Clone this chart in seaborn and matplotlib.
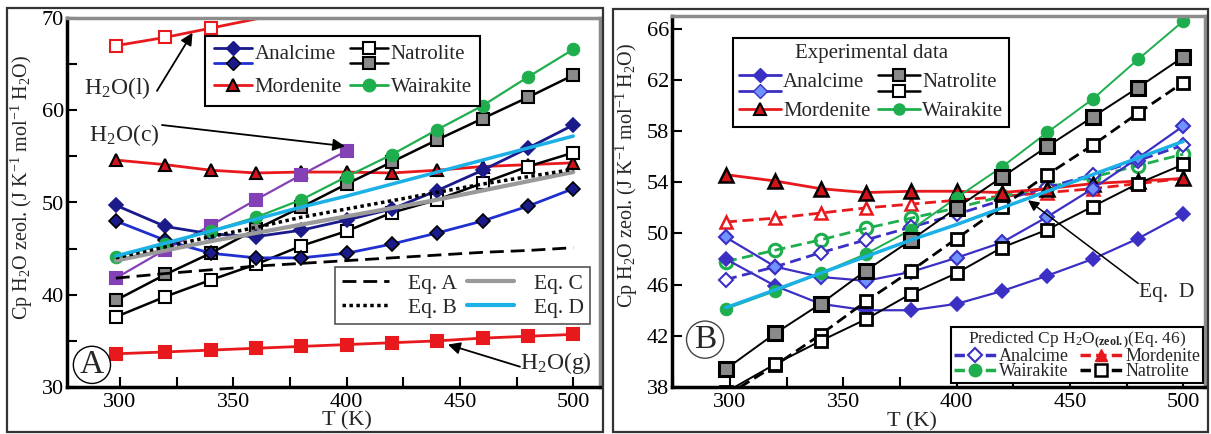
import matplotlib
matplotlib.use("Agg")
import matplotlib.pyplot as plt
import seaborn as sns
from matplotlib.lines import Line2D
from matplotlib.legend_handler import HandlerBase
from matplotlib.patches import Rectangle
from matplotlib.ticker import MultipleLocator

# === SETTINGS ===
sns.set_theme(style="ticks")
plt.rcParams["font.family"] = ["Liberation Serif", "DejaVu Serif"]
plt.rcParams["mathtext.fontset"] = "custom"
plt.rcParams["mathtext.rm"] = "Liberation Serif"
plt.rcParams["mathtext.it"] = "Liberation Serif:italic"
plt.rcParams["mathtext.bf"] = "Liberation Serif:bold"

# === DATA ===
T = [298.15, 320, 340, 360, 380, 400, 420, 440, 460, 480, 500]
T_liq = [298.15, 320, 340, 360, 380]
T_ice = [298.15, 320, 340, 360, 380, 400]

h2o_liq = [67.0, 67.9, 68.9, 69.9, 70.9]
h2o_ice = [41.8, 44.9, 47.5, 50.3, 53.0, 55.6]
h2o_gas = [33.6, 33.8, 34.0, 34.2, 34.4, 34.6, 34.8, 35.0, 35.3, 35.5, 35.7]

analcime_1 = [49.7, 47.4, 46.6, 46.3, 47.0, 48.1, 49.3, 51.3, 53.5, 55.9, 58.4]
analcime_2 = [48.0, 45.9, 44.5, 44.0, 44.0, 44.5, 45.5, 46.7, 48.0, 49.6, 51.5]
mordenite = [54.6, 54.1, 53.5, 53.2, 53.3, 53.3, 53.2, 53.5, 53.9, 54.1, 54.3]
wairakite = [44.1, 45.5, 46.9, 48.4, 50.3, 52.8, 55.2, 57.9, 60.5, 63.6, 66.6]
natrolite_gray = [39.4, 42.2, 44.5, 47.1, 49.5, 52.0, 54.4, 56.8, 59.1, 61.4, 63.8]
natrolite_open = [37.6, 39.8, 41.6, 43.3, 45.3, 46.9, 48.9, 50.3, 52.1, 53.9, 55.4]

eq_a = [41.8, 42.3, 42.7, 43.1, 43.4, 43.7, 44.0, 44.3, 44.6, 44.8, 45.1]
eq_b = [44.0, 45.2, 46.3, 47.3, 48.4, 49.3, 50.2, 51.1, 52.0, 52.8, 53.6]
eq_c = [43.7, 44.8, 45.8, 46.7, 47.6, 48.5, 49.4, 50.3, 51.3, 52.3, 53.3]
eq_d = [44.2, 45.6, 46.9, 48.2, 49.5, 50.7, 52.0, 53.3, 54.6, 55.9, 57.2]

pred_analcime = [46.4, 47.4, 48.5, 49.5, 50.5, 51.5, 52.6, 53.6, 54.6, 55.7, 56.9]
pred_wairakite = [47.8, 48.7, 49.5, 50.4, 51.2, 52.0, 52.9, 53.6, 54.4, 55.3, 56.2]
pred_mordenite = [50.9, 51.2, 51.6, 52.0, 52.3, 52.6, 52.9, 53.2, 53.5, 53.9, 54.3]
pred_natrolite = [37.3, 39.7, 42.1, 44.7, 47.1, 49.6, 52.1, 54.6, 56.9, 59.4, 61.8]

yticks_a = [30, 40, 50, 60, 70]
yticks_b = [38, 42, 46, 50, 54, 58, 62, 66]

# colours
RED = "#e8191c"
NAVY = "#1a1a8a"
BLUE = "#2030d0"
VIOLET = "#3b2fc4"
LIGHTBLUE = "#6f93ff"
GREEN = "#1fae4e"
PURPLE = "#8441b5"
CYAN = "#1bb0e6"
GREY = "#9a9a9a"
NATGREY = "#8a8a8a"


class HandlerStack(HandlerBase):
    """Two legend handles stacked vertically under one label."""
    def create_artists(self, legend, orig_handle, xdescent, ydescent,
                       width, height, fontsize, trans):
        out = []
        yc = height / 2 - ydescent
        offsets = [0.22 * fontsize, -0.52 * fontsize]
        for h, dy in zip(orig_handle, offsets):
            y = yc + dy
            ln = Line2D([-xdescent, width - xdescent], [y, y])
            ln.update_from(h)
            ln.set_marker("")
            mk = Line2D([width / 2 - xdescent], [y])
            mk.update_from(h)
            mk.set_linestyle("none")
            ln.set_transform(trans)
            mk.set_transform(trans)
            out += [ln, mk]
        return out


def draw(ax, x, y, **kw):
    sns.lineplot(x=x, y=y, ax=ax, errorbar=None, legend=False, **kw)


def style_axes(ax):
    for s in ["left", "bottom"]:
        ax.spines[s].set_color("black")
        ax.spines[s].set_linewidth(2.5)
    for s in ["top", "right"]:
        ax.spines[s].set_color("#8c8c8c")
        ax.spines[s].set_linewidth(2.5)
    ax.xaxis.set_major_locator(MultipleLocator(50))
    ax.xaxis.set_minor_locator(MultipleLocator(25))
    ax.tick_params(which="both", direction="in", length=7, width=1.5,
                   labelsize=16, colors="black", top=False, right=False)
    ax.tick_params(axis="y", pad=2)
    ax.tick_params(axis="x", pad=4)
    ax.set_xlabel("T (K)", fontsize=16, labelpad=0)
    ax.set_ylabel(r"Cp H$_2$O zeol. (J K$^{-1}$ mol$^{-1}$ H$_2$O)", fontsize=14.5)
    ax.set_facecolor("white")


W, H = 1211, 434
fig = plt.figure(figsize=(W / 100, H / 100), dpi=100)
fig.patch.set_facecolor("white")
axA = fig.add_axes([67 / W, 1 - 387 / H, 533 / W, 369 / H])
axB = fig.add_axes([672 / W, 1 - 387 / H, 533 / W, 371 / H])

# panel frames
fig.add_artist(Rectangle((7 / W, 2 / H), 596 / W, 424 / H, transform=fig.transFigure,
                         fill=False, ec="#333333", lw=1.6))
fig.add_artist(Rectangle((613 / W, 2 / H), 595 / W, 423 / H, transform=fig.transFigure,
                         fill=False, ec="#333333", lw=1.6))

# === PANEL A ===
mk = dict(markersize=8, markeredgewidth=1.5)
draw(axA, T_liq, h2o_liq, color=RED, lw=2, marker="s", markerfacecolor="white",
     markeredgecolor=RED, markevery=[0, 1, 2], **mk)
draw(axA, T, h2o_gas, color=RED, lw=2, marker="s", markerfacecolor=RED,
     markeredgecolor=RED, **mk)
draw(axA, T, mordenite, color=RED, lw=2, marker="^", markerfacecolor="#d0141a",
     markeredgecolor="black", markersize=9, markeredgewidth=1.5)
draw(axA, T_ice, h2o_ice, color=PURPLE, lw=1.6, marker="s", markerfacecolor=PURPLE,
     markeredgecolor=PURPLE, **mk)
draw(axA, T, natrolite_gray, color="black", lw=1.8, marker="s", markerfacecolor=NATGREY,
     markeredgecolor="black", **mk)
draw(axA, T, natrolite_open, color="black", lw=1.8, marker="s", markerfacecolor="white",
     markeredgecolor="black", **mk)
draw(axA, T, analcime_1, color=NAVY, lw=2, marker="D", markerfacecolor=NAVY,
     markeredgecolor=NAVY, markersize=7.5, markeredgewidth=1.2)
draw(axA, T, analcime_2, color=BLUE, lw=2, marker="D", markerfacecolor=NAVY,
     markeredgecolor="black", markersize=7.5, markeredgewidth=1.2)
draw(axA, T, wairakite, color=GREEN, lw=1.6, marker="o", markerfacecolor=GREEN,
     markeredgecolor=GREEN, markersize=9)
draw(axA, T, eq_c, color=GREY, lw=3)
draw(axA, T, eq_b, color="black", lw=2.5, ls=(0, (1, 1)))
draw(axA, T, eq_a, color="black", lw=2, ls=(0, (5, 2.5)))
draw(axA, T, eq_d, color=CYAN, lw=2.5)

axA.set_xlim(276.6, 511.8)
axA.set_ylim(30, 70)
axA.set_yticks(yticks_a)
axA.yaxis.set_minor_locator(MultipleLocator(5))
style_axes(axA)
axA.xaxis.set_label_coords(0.525, -0.066)
axA.yaxis.set_label_coords(-0.06, 0.54)

arrow = dict(arrowstyle="-|>", color="black", lw=1.3, mutation_scale=18,
             shrinkA=0, shrinkB=0)
axA.text(298.7, 62.4, r"H$_2$O(l)", fontsize=17, ha="center", va="center")
axA.annotate("", xy=(332, 68.4), xytext=(316.3, 62.1), arrowprops=arrow)
axA.text(301.8, 57.3, r"H$_2$O(c)", fontsize=17, ha="center", va="center")
axA.annotate("", xy=(399.3, 56.1), xytext=(318.5, 58.4), arrowprops=arrow)
axA.text(492.4, 32.6, r"H$_2$O(g)", fontsize=17, ha="center", va="center")
axA.annotate("", xy=(444.7, 34.6), xytext=(476.5, 32.2), arrowprops=arrow)
axA.text(287.6, 32.4, "A", fontsize=24, ha="center", va="center",
         bbox=dict(boxstyle="circle,pad=0.1", fc="white", ec="black", lw=1))

hA = [
    (Line2D([], [], color=NAVY, lw=2, marker="D", ms=7.5, mfc=NAVY, mec=NAVY),
     Line2D([], [], color=BLUE, lw=2, marker="D", ms=7.5, mfc=NAVY, mec="black")),
    Line2D([], [], color=RED, lw=2, marker="^", ms=9, mfc="#d0141a", mec="black", mew=1.5),
    (Line2D([], [], color="black", lw=1.8, marker="s", ms=8, mfc="white", mec="black", mew=1.5),
     Line2D([], [], color="black", lw=1.8, marker="s", ms=8, mfc=NATGREY, mec="black", mew=1.5)),
    Line2D([], [], color=GREEN, lw=2, marker="o", ms=9, mfc=GREEN, mec=GREEN),
]
legA = axA.legend(hA, ["Analcime", "Mordenite", "Natrolite", "Wairakite"], ncol=2,
                  loc="upper left", bbox_to_anchor=(0.259, 0.951), borderaxespad=0,
                  handler_map={tuple: HandlerStack()}, fontsize=15,
                  handlelength=1.85, handletextpad=0.12, columnspacing=0.35,
                  labelspacing=0.62, borderpad=0.42, fancybox=False,
                  edgecolor="black", framealpha=1)
legA.get_frame().set_linewidth(1.5)
axA.add_artist(legA)

hE = [Line2D([], [], color="black", lw=2, ls=(0, (5, 2.5))),
      Line2D([], [], color="black", lw=2.5, ls=(0, (1, 1))),
      Line2D([], [], color=GREY, lw=3),
      Line2D([], [], color=CYAN, lw=3)]
legE = axA.legend(hE, ["Eq. A", "Eq. B", "Eq. C", "Eq. D"], ncol=2,
                  loc="upper left", bbox_to_anchor=(0.503, 0.325), borderaxespad=0,
                  fontsize=15.5, handlelength=2.2, handletextpad=0.9,
                  columnspacing=0.45, labelspacing=0.2, borderpad=0.3,
                  fancybox=False, edgecolor="#555555", framealpha=1)
legE.get_frame().set_linewidth(1.2)

# === PANEL B ===
draw(axB, T, pred_mordenite, color=RED, lw=2, ls=(0, (4, 2)), marker="^",
     markerfacecolor="white", markeredgecolor=RED, markersize=9, markeredgewidth=1.8)
draw(axB, T, pred_wairakite, color=GREEN, lw=2, ls=(0, (4, 2)), marker="o",
     markerfacecolor="none", markeredgecolor=GREEN, markersize=9, markeredgewidth=2.2)
draw(axB, T, pred_analcime, color=VIOLET, lw=2, ls=(0, (4, 2)), marker="D",
     markerfacecolor="white", markeredgecolor=VIOLET, markersize=7, markeredgewidth=1.5)
draw(axB, T, mordenite, color=RED, lw=2, marker="^", markerfacecolor="#d0141a",
     markeredgecolor="black", markersize=10, markeredgewidth=1.8)
draw(axB, T, analcime_1, color=VIOLET, lw=1.6, marker="D", markerfacecolor=LIGHTBLUE,
     markeredgecolor=VIOLET, markersize=7.5, markeredgewidth=1.5)
draw(axB, T, analcime_2, color=VIOLET, lw=1.6, marker="D", markerfacecolor=VIOLET,
     markeredgecolor=VIOLET, markersize=7.5, markeredgewidth=1.2)
draw(axB, T, wairakite, color=GREEN, lw=1.4, marker="o", markerfacecolor=GREEN,
     markeredgecolor=GREEN, markersize=9)
draw(axB, T, pred_natrolite, color="black", lw=2, ls=(0, (4, 2)), marker="s",
     markerfacecolor="white", markeredgecolor="black", markersize=9, markeredgewidth=2)
draw(axB, T, natrolite_open, color="black", lw=1.4, marker="s", markerfacecolor="white",
     markeredgecolor="black", markersize=9, markeredgewidth=2)
draw(axB, T, natrolite_gray, color="black", lw=1.4, marker="s", markerfacecolor=NATGREY,
     markeredgecolor="black", markersize=10, markeredgewidth=2.2)
draw(axB, T, eq_d, color=CYAN, lw=2.5)

axB.set_xlim(274.4, 509.6)
axB.set_ylim(38, 67)
axB.set_yticks(yticks_b)
style_axes(axB)
axB.xaxis.set_label_coords(0.45, -0.068)
axB.yaxis.set_label_coords(-0.06, 0.57)

axB.text(492.8, 45.4, "Eq.  D", fontsize=15.5, ha="center", va="center")
axB.annotate("", xy=(431.5, 52.6), xytext=(480.1, 46.1),
             arrowprops=dict(arrowstyle="-|>", color="black", lw=1.1,
                             mutation_scale=16, shrinkA=0, shrinkB=0))
axB.text(289.0, 41.7, "B", fontsize=24, ha="center", va="center",
         bbox=dict(boxstyle="circle,pad=0.1", fc="white", ec="#444444", lw=1))

hB = [
    (Line2D([], [], color=VIOLET, lw=2, marker="D", ms=7.5, mfc=VIOLET, mec=VIOLET),
     Line2D([], [], color=VIOLET, lw=2, marker="D", ms=7, mfc=LIGHTBLUE, mec=VIOLET)),
    Line2D([], [], color=RED, lw=2, marker="^", ms=9, mfc="#d0141a", mec="black", mew=1.5),
    (Line2D([], [], color="black", lw=1.8, marker="s", ms=8, mfc=NATGREY, mec="black", mew=1.5),
     Line2D([], [], color="black", lw=1.8, marker="s", ms=8, mfc="white", mec="black", mew=1.5)),
    Line2D([], [], color=GREEN, lw=2, marker="o", ms=8, mfc=GREEN, mec=GREEN),
]
legB = axB.legend(hB, ["Analcime", "Mordenite", "Natrolite", "Wairakite"], ncol=2,
                  title="Experimental data", title_fontsize=15,
                  loc="upper left", bbox_to_anchor=(0.114, 0.941), borderaxespad=0,
                  handler_map={tuple: HandlerStack()}, fontsize=15,
                  handlelength=2.0, handletextpad=0.12, columnspacing=0.35,
                  labelspacing=0.45, borderpad=0.3, fancybox=False,
                  edgecolor="black", framealpha=1)
legB.get_frame().set_linewidth(1.5)
axB.add_artist(legB)

hP = [Line2D([], [], color=VIOLET, lw=2.5, ls=(0, (3, 1.5)), marker="D", ms=7, mfc="white", mec=VIOLET, mew=1.5),
      Line2D([], [], color=GREEN, lw=2.5, ls=(0, (3, 1.5)), marker="o", ms=9, mfc=GREEN, mec=GREEN),
      Line2D([], [], color=RED, lw=2.5, ls=(0, (3, 1.5)), marker="^", ms=9, mfc=RED, mec=RED),
      Line2D([], [], color="black", lw=2.5, ls=(0, (3, 1.5)), marker="s", ms=9, mfc="white", mec="black", mew=1.8)]
legP = axB.legend(hP, ["Analcime", "Wairakite", "Mordenite", "Natrolite"], ncol=2,
                  title=r"Predicted Cp H$_2$O$_{\mathbf{(zeol.)}}$(Eq. 46)", title_fontsize=12.5,
                  loc="lower right", bbox_to_anchor=(0.996, 0.011), borderaxespad=0,
                  fontsize=13, handlelength=2.3, handletextpad=0.2, columnspacing=0.6,
                  labelspacing=-0.12, borderpad=0.15, fancybox=False,
                  edgecolor="black", framealpha=1)
legP.get_frame().set_linewidth(1.5)

plt.savefig("out.png", dpi=100, facecolor="white")
